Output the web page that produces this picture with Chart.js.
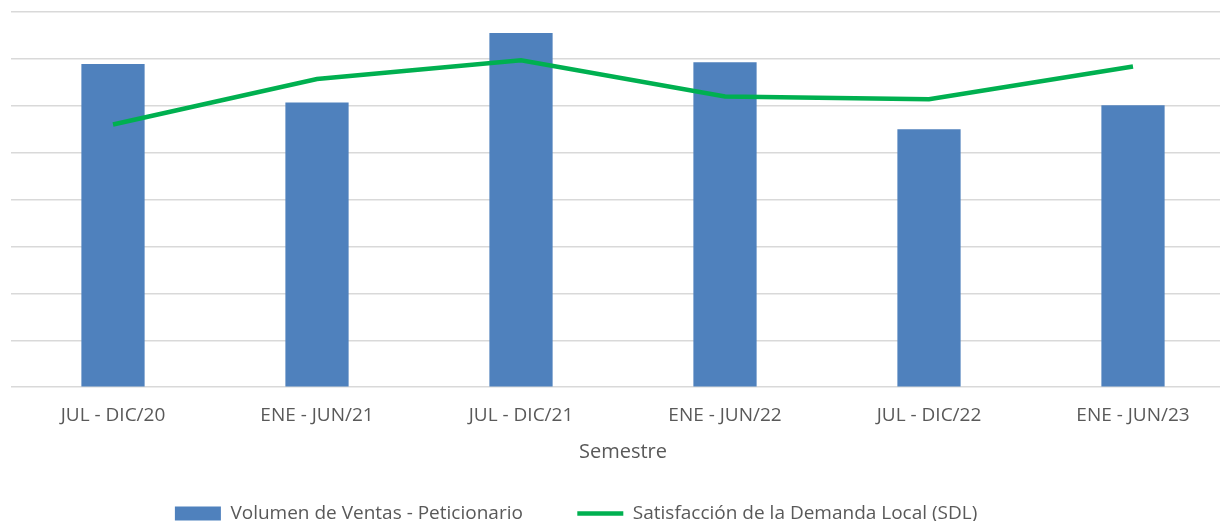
<!DOCTYPE html>
<html>
<head>
<meta charset="utf-8">
<script src="https://cdn.jsdelivr.net/npm/chart.js@4"></script>
<style>
  body { margin: 0; overflow: hidden; background: #fff; }
  #wrap { width: 1240px; height: 521px; }
</style>
</head>
<body>
<div id="wrap"><canvas id="myChart"></canvas></div>
<script>
var semestres = ['JUL - DIC/20', 'ENE - JUN/21', 'JUL - DIC/21', 'ENE - JUN/22', 'JUL - DIC/22', 'ENE - JUN/23'];
var volumen = [6.89, 6.07, 7.55, 6.93, 5.50, 6.01];
var sdl = [5.60, 6.57, 6.97, 6.20, 6.14, 6.84];

var azul = '#4F81BD';
var verde = '#00B050';
var gris = '#595959';
var fuente = 'Open Sans';

// espacios al final para separar y centrar la leyenda como en el original
function relleno(n) { return new Array(n + 1).join(' '); }

var ctx = document.getElementById('myChart').getContext('2d');
var chart = new Chart(ctx, {
    type: 'bar',
    data: {
        labels: semestres,
        datasets: [{
            type: 'line',
            label: 'Satisfacción de la Demanda Local (SDL)',
            data: sdl,
            borderColor: verde,
            backgroundColor: verde,
            borderWidth: 4.5,
            pointRadius: 0,
            tension: 0,
            order: 0
        }, {
            label: 'Volumen de Ventas - Peticionario',
            data: volumen,
            backgroundColor: azul,
            borderWidth: 0,
            barPercentage: 0.31,
            categoryPercentage: 1,
            order: 1
        }]
    },
    options: {
        responsive: true,
        maintainAspectRatio: false,
        animation: false,
        layout: { padding: { left: 11, right: 5, top: 12, bottom: -12 } },
        scales: {
            x: {
                grid: { display: false, drawTicks: false },
                border: { display: false },
                ticks: { color: gris, font: { family: fuente, size: 19 }, padding: 17 },
                title: { display: true, text: 'Semestre', color: gris, font: { family: fuente, size: 20 }, padding: { top: -4, bottom: 30 } }
            },
            y: {
                min: 0,
                max: 8,
                ticks: { display: false, stepSize: 1 },
                border: { display: false },
                grid: { color: '#D9D9D9', lineWidth: 1.6, drawTicks: false }
            }
        },
        plugins: {
            legend: {
                position: 'bottom',
                reverse: true,
                labels: {
                    color: gris,
                    font: { family: fuente, size: 19 },
                    usePointStyle: true,
                    pointStyleWidth: 46,
                    boxHeight: 14,
                    padding: 10,
                    generateLabels: function (c) {
                        var items = Chart.defaults.plugins.legend.labels.generateLabels(c);
                        items.forEach(function (it) {
                            if (it.datasetIndex === 0) {
                                it.pointStyle = 'line';
                                it.lineWidth = 4.5;
                                it.strokeStyle = verde;
                                it.text = it.text + relleno(19);
                            } else {
                                it.pointStyle = 'rect';
                                it.lineWidth = 0;
                                it.text = it.text + relleno(9);
                            }
                        });
                        return items;
                    }
                }
            },
            tooltip: { enabled: false }
        }
    }
});
</script>
</body>
</html>
